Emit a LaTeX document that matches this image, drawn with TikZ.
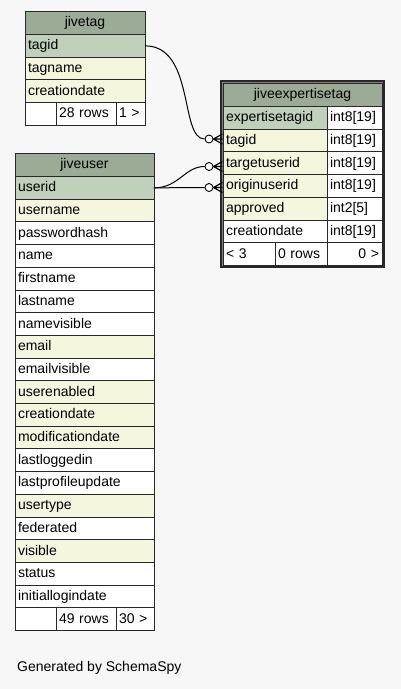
\documentclass[tikz,border=0pt]{standalone}
\usepackage{fontspec}
\setmainfont{Liberation Sans}
\usetikzlibrary{positioning}

\definecolor{headgreen}{RGB}{156,171,150}
\definecolor{keygreen}{RGB}{191,209,187}
\definecolor{idxyellow}{RGB}{244,247,222}
\definecolor{pagegray}{RGB}{247,247,247}
\definecolor{linegray}{RGB}{40,40,40}

\begin{document}
\begin{tikzpicture}[
    x=1pt, y=-1pt,
    % Plain table cell (white)
    cell/.style={draw=linegray, line width=1pt, fill=white, inner xsep=3pt, inner ysep=0pt,
        outer sep=0pt, minimum height=22.7pt, text height=10pt, text depth=2pt,
        font=\fontsize{14}{16}\selectfont, align=left},
    % Table title, primary key and indexed columns
    head/.style={cell, fill=headgreen, minimum height=23.5pt, align=center},
    key/.style={cell, fill=keygreen},
    idx/.style={cell, fill=idxyellow},
    % Column widths of the expertise table
    namecol/.style={text width=98pt},
    typecol/.style={text width=49pt},
    % Open circle at the "zero" end of a relation
    zero/.style={circle, draw=black, line width=0.9pt, fill=white, inner sep=0pt, minimum size=8pt},
    rel/.style={line width=1pt}
]

% Macro for the crow's foot between a circle and the table edge
\newcommand{\crowfoot}[1]{
    \draw[rel, line width=1.2pt] (#1.east) -- ++(9,-5)
               (#1.east) -- ++(9,0)
               (#1.east) -- ++(9,5);
}

% Page background
\fill[pagegray] (0,0) rectangle (401,689);
\useasboundingbox (0,0) rectangle (401,689);

% ==========================
% jivetag
% ==========================
\begin{scope}[every node/.append style={text width=114pt}]
    \node[head, anchor=north west] (tag-head) at (25,11) {jivetag};
    \node[key, below=0pt of tag-head] (tag-tagid) {tagid};
    \node[idx, below=0pt of tag-tagid] (tag-tagname) {tagname};
    \node[idx, below=0pt of tag-tagname] (tag-creationdate) {creationdate};
    
    % Footer
    \node[cell, anchor=north west, text width=25pt] (tag-f1) at (tag-creationdate.south west) {};
    \node[cell, right=0pt of tag-f1, text width=54pt] (tag-f2) {28 rows};
    \node[cell, right=0pt of tag-f2, text width=23pt] (tag-f3) {1 >};
\end{scope}

% ==========================
% jiveuser
% ==========================
\begin{scope}[every node/.append style={text width=133pt}]
    \node[head, anchor=north west] (u-head) at (15,153) {jiveuser};
    \node[key, below=0pt of u-head] (u-userid) {userid};
    \node[idx, below=0pt of u-userid] (u-username) {username};
    \node[cell, below=0pt of u-username] (u-passwordhash) {passwordhash};
    \node[cell, below=0pt of u-passwordhash] (u-name) {name};
    \node[cell, below=0pt of u-name] (u-firstname) {firstname};
    \node[cell, below=0pt of u-firstname] (u-lastname) {lastname};
    \node[cell, below=0pt of u-lastname] (u-namevisible) {namevisible};
    \node[idx, below=0pt of u-namevisible] (u-email) {email};
    \node[cell, below=0pt of u-email] (u-emailvisible) {emailvisible};
    \node[idx, below=0pt of u-emailvisible] (u-userenabled) {userenabled};
    \node[idx, below=0pt of u-userenabled] (u-creationdate) {creationdate};
    \node[idx, below=0pt of u-creationdate] (u-modificationdate) {modificationdate};
    \node[cell, below=0pt of u-modificationdate] (u-lastloggedin) {lastloggedin};
    \node[cell, below=0pt of u-lastloggedin] (u-lastprofileupdate) {lastprofileupdate};
    \node[idx, below=0pt of u-lastprofileupdate] (u-usertype) {usertype};
    \node[cell, below=0pt of u-usertype] (u-federated) {federated};
    \node[idx, below=0pt of u-federated] (u-visible) {visible};
    \node[cell, below=0pt of u-visible] (u-status) {status};
    \node[cell, below=0pt of u-status] (u-initiallogindate) {initiallogindate};
    
    % Footer
    \node[cell, anchor=north west, text width=35pt] (u-f1) at (u-initiallogindate.south west) {};
    \node[cell, right=0pt of u-f1, text width=54pt] (u-f2) {49 rows};
    \node[cell, right=0pt of u-f2, text width=32pt] (u-f3) {30 >};
\end{scope}

% ==========================
% jiveexpertisetag
% ==========================
% Double frame of the focused table
\draw[line width=1.6pt, draw=linegray, fill=black!50] (220.8,80.8) rectangle (384.2,267.2);

\node[head, anchor=north west, text width=153pt] (et-head) at (223,83) {jiveexpertisetag};

\node[key, namecol, anchor=north west] (et-id) at (et-head.south west) {expertisetagid};
\node[cell, typecol, right=0pt of et-id] (et-id-t) {int8[19]};

\node[idx, namecol, below=0pt of et-id] (et-tagid) {tagid};
\node[cell, typecol, right=0pt of et-tagid] (et-tagid-t) {int8[19]};

\node[idx, namecol, below=0pt of et-tagid] (et-target) {targetuserid};
\node[cell, typecol, right=0pt of et-target] (et-target-t) {int8[19]};

\node[idx, namecol, below=0pt of et-target] (et-origin) {originuserid};
\node[cell, typecol, right=0pt of et-origin] (et-origin-t) {int8[19]};

\node[idx, namecol, below=0pt of et-origin] (et-approved) {approved};
\node[cell, typecol, right=0pt of et-approved] (et-approved-t) {int2[5]};

\node[cell, namecol, below=0pt of et-approved] (et-creationdate) {creationdate};
\node[cell, typecol, right=0pt of et-creationdate] (et-creationdate-t) {int8[19]};

% Footer
\node[cell, anchor=north west, text width=46pt] (et-f1) at (et-creationdate.south west) {< 3};
\node[cell, right=0pt of et-f1, text width=46pt] (et-f2) {0 rows};
\node[cell, right=0pt of et-f2, text width=49pt, align=right] (et-f3) {0 >};

% ==========================
% Relations
% ==========================
\node[zero] (z-tagid) at (209,139) {};
\node[zero] (z-target) at (209,166.5) {};
\node[zero] (z-origin) at (209,187.5) {};

\draw[rel] (tag-tagid.east) .. controls +(50,0) and +(-25,0) .. (z-tagid.west);
\draw[rel] (u-userid.east) .. controls +(25,0) and +(-20,0) .. (z-target.west);
\draw[rel] (u-userid.east) -- (z-origin.west);

\crowfoot{z-tagid}
\crowfoot{z-target}
\crowfoot{z-origin}

% Credit line
\node[font=\fontsize{14}{16}\selectfont, inner sep=0pt, anchor=base west] (credit) at (17,671) {Generated by SchemaSpy};

\end{tikzpicture}
\end{document}
